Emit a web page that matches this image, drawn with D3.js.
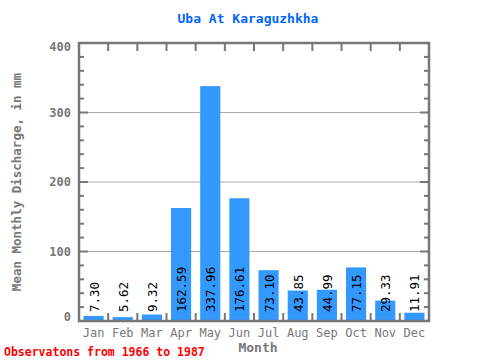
<!DOCTYPE html>
<html><head><meta charset="utf-8">
<script src="https://cdn.jsdelivr.net/npm/d3@7"></script>
<style>body{margin:0;background:#fff}</style>
</head><body>
<svg id="c" width="480" height="360"></svg>
<script>
const months = ["Jan","Feb","Mar","Apr","May","Jun","Jul","Aug","Sep","Oct","Nov","Dec"];
const values = [7.30,5.62,9.32,162.59,337.96,176.61,73.10,43.85,44.99,77.15,29.33,11.91];
const yTicks = [0,100,200,300,400];

const svg = d3.select("#c");
const L=79, R=429, T=43, B=321;
const font = "'DejaVu Sans Mono', monospace";
const x = d3.scaleBand().domain(months).range([L,R]).paddingInner(0.31).paddingOuter(0.155);
const xb = d3.scaleLinear().domain([0,12]).range([L,R]);
const y = d3.scaleLinear().domain([0,400]).range([B,T]);
const gray="#777";

// grid
svg.append("g").selectAll("line").data(yTicks.filter(d=>d>0&&d<400)).join("line")
  .attr("x1",L).attr("x2",R).attr("y1",d=>y(d)).attr("y2",d=>y(d))
  .attr("stroke","#aaa").attr("stroke-width",1);

// bars
svg.append("g").selectAll("rect").data(values).join("rect")
  .attr("x",(d,i)=>x(months[i])).attr("width",x.bandwidth())
  .attr("y",d=>y(d)).attr("height",d=>B-y(d)).attr("fill","#3399ff");

// value labels
svg.append("g").selectAll("text").data(values).join("text")
  .attr("transform",(d,i)=>`translate(${x(months[i])+x.bandwidth()/2+5},312) rotate(-90)`)
  .attr("font-family",font).attr("font-size",12.5).attr("fill","#000")
  .text(d=>d.toFixed(2));

// frame ticks
const g = svg.append("g").attr("stroke",gray).attr("stroke-width",2);
d3.range(1,12).forEach(i=>{
  g.append("line").attr("x1",xb(i)).attr("x2",xb(i)).attr("y1",T).attr("y2",T+8);
  g.append("line").attr("x1",xb(i)).attr("x2",xb(i)).attr("y1",B).attr("y2",B-8);
});
d3.range(20,400,20).forEach(v=>{
  const len = v%100===0?9:5;
  g.append("line").attr("x1",L).attr("x2",L+len).attr("y1",y(v)).attr("y2",y(v));
  g.append("line").attr("x1",R).attr("x2",R-len).attr("y1",y(v)).attr("y2",y(v));
});
svg.append("rect").attr("x",L).attr("y",T).attr("width",R-L).attr("height",B-T)
  .attr("fill","none").attr("stroke",gray).attr("stroke-width",2.5);

// y tick labels
svg.append("g").selectAll("text").data(yTicks).join("text")
  .attr("x",71).attr("y",d=>y(d)+4+(d===400?4:d===0?-4:0)).attr("text-anchor","end")
  .attr("font-family",font).attr("font-size",12).attr("font-weight","bold").attr("fill",gray)
  .text(d=>d);

// x tick labels
svg.append("g").selectAll("text").data(months).join("text")
  .attr("x",d=>x(d)+x.bandwidth()/2).attr("y",337).attr("text-anchor","middle")
  .attr("font-family",font).attr("font-size",12).attr("fill",gray)
  .text(d=>d);

// title
svg.append("text").attr("x",248).attr("y",23).attr("text-anchor","middle")
  .attr("font-family",font).attr("font-size",13).attr("font-weight","bold").attr("fill","#0066ff")
  .text("Uba At Karaguzhkha");

// axis titles
svg.append("text").attr("x",258).attr("y",352).attr("text-anchor","middle")
  .attr("font-family",font).attr("font-size",13).attr("font-weight","bold").attr("fill",gray)
  .text("Month");
svg.append("text").attr("transform","translate(21,182) rotate(-90)").attr("text-anchor","middle")
  .attr("font-family",font).attr("font-size",12.5).attr("font-weight","bold").attr("fill",gray)
  .text("Mean Monthly Discharge, in mm");

// footer
svg.append("text").attr("x",4).attr("y",356)
  .attr("font-family",font).attr("font-size",11.5).attr("font-weight","bold").attr("fill","#ff0000")
  .text("Observatons from 1966 to 1987");
</script>
</body></html>
